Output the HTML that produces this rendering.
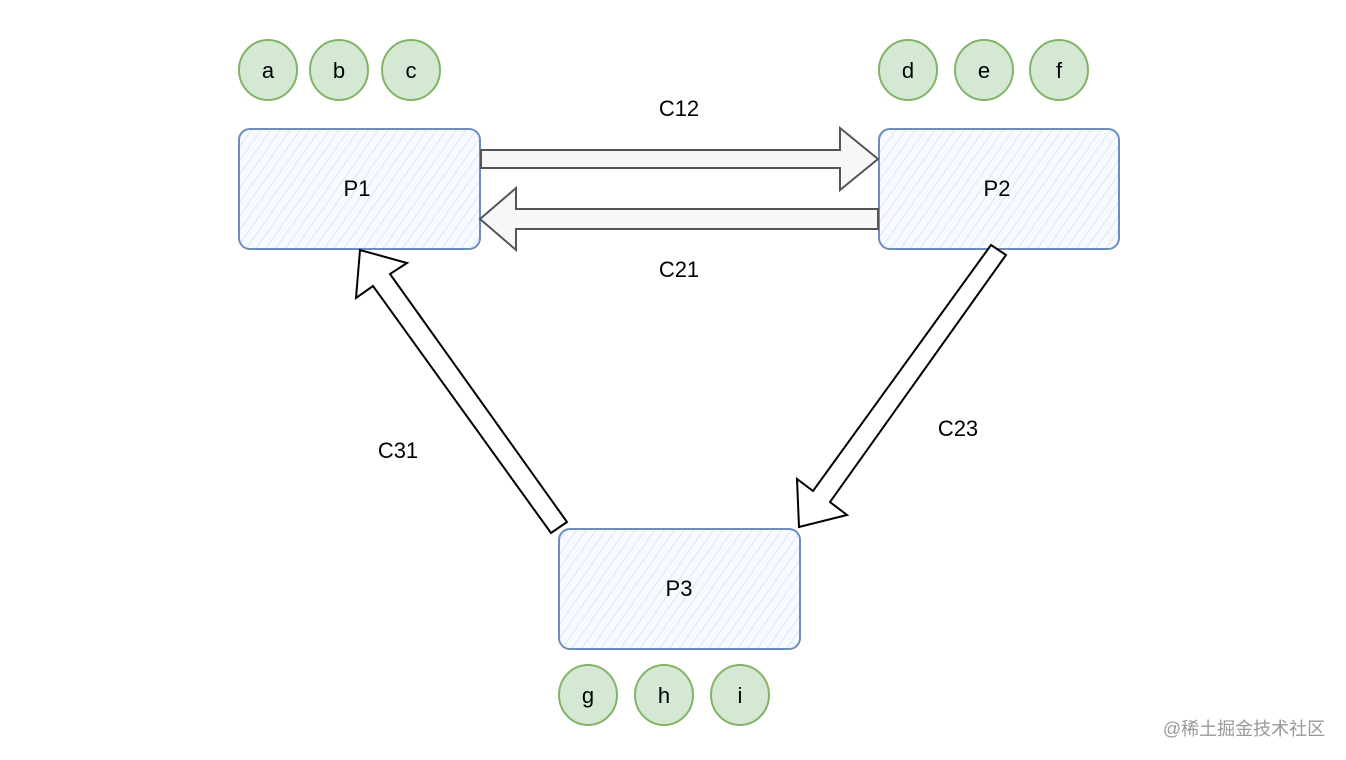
<!DOCTYPE html>
<html><head><meta charset="utf-8"><style>
html,body{margin:0;padding:0;background:#fff;}
svg{display:block;}
text{font-family:"Liberation Sans",Arial,sans-serif;}
</style></head><body>
<svg width="1346" height="760" viewBox="0 0 1346 760" xmlns="http://www.w3.org/2000/svg">
<defs>
<pattern id="h" width="8" height="8" patternUnits="userSpaceOnUse" patternTransform="rotate(35)">
<rect width="8" height="8" fill="#f7fafe"/>
<line x1="0" y1="0" x2="0" y2="8" stroke="#c9dbf3" stroke-width="1.2"/>
</pattern>
</defs>
<rect x="0" y="0" width="1346" height="760" fill="#fff"/>
<rect x="239" y="129" width="241" height="120" rx="11" fill="url(#h)" stroke="#6c8ebf" stroke-width="2"/>
<rect x="879" y="129" width="240" height="120" rx="11" fill="url(#h)" stroke="#6c8ebf" stroke-width="2"/>
<rect x="559" y="529" width="241" height="120" rx="11" fill="url(#h)" stroke="#6c8ebf" stroke-width="2"/>
<text x="357" y="196" font-size="22" text-anchor="middle">P1</text>
<text x="997" y="196" font-size="22" text-anchor="middle">P2</text>
<text x="679" y="596" font-size="22" text-anchor="middle">P3</text>
<g fill="#d5e8d4" stroke="#82b366" stroke-width="2">
<ellipse cx="268" cy="70" rx="29" ry="30"/><ellipse cx="339" cy="70" rx="29" ry="30"/><ellipse cx="411" cy="70" rx="29" ry="30"/>
<ellipse cx="908" cy="70" rx="29" ry="30"/><ellipse cx="984" cy="70" rx="29" ry="30"/><ellipse cx="1059" cy="70" rx="29" ry="30"/>
<ellipse cx="588" cy="695" rx="29" ry="30"/><ellipse cx="664" cy="695" rx="29" ry="30"/><ellipse cx="740" cy="695" rx="29" ry="30"/>
</g>
<g font-size="22" text-anchor="middle">
<text x="268" y="78">a</text><text x="339" y="78">b</text><text x="411" y="78">c</text>
<text x="908" y="78">d</text><text x="984" y="78">e</text><text x="1059" y="78">f</text>
<text x="588" y="703">g</text><text x="664" y="703">h</text><text x="740" y="703">i</text>
</g>
<polygon points="481,150 840,150 840,128 878,159 840,190 840,168 481,168" fill="#f7f7f7" stroke="#555" stroke-width="2"/>
<polygon points="878,209 516,209 516,188 480,219 516,250 516,229 878,229" fill="#f7f7f7" stroke="#555" stroke-width="2"/>
<polygon points="991,245 1006,255 830,502 847,515 799,527 797,479 813,491" fill="#fff" stroke="#000" stroke-width="2"/>
<polygon points="567,522 551,533 373,286 356,298 360,250 407,263 390,274" fill="#fff" stroke="#000" stroke-width="2"/>
<g font-size="22" text-anchor="middle">
<text x="679" y="116">C12</text>
<text x="679" y="277">C21</text>
<text x="958" y="436">C23</text>
<text x="398" y="458">C31</text>
</g>
<text x="1244" y="735" font-size="18" fill="#999" text-anchor="middle" style="font-family:'Liberation Sans','Noto Sans CJK SC',sans-serif">@稀土掘金技术社区</text>
</svg>
</body></html>
